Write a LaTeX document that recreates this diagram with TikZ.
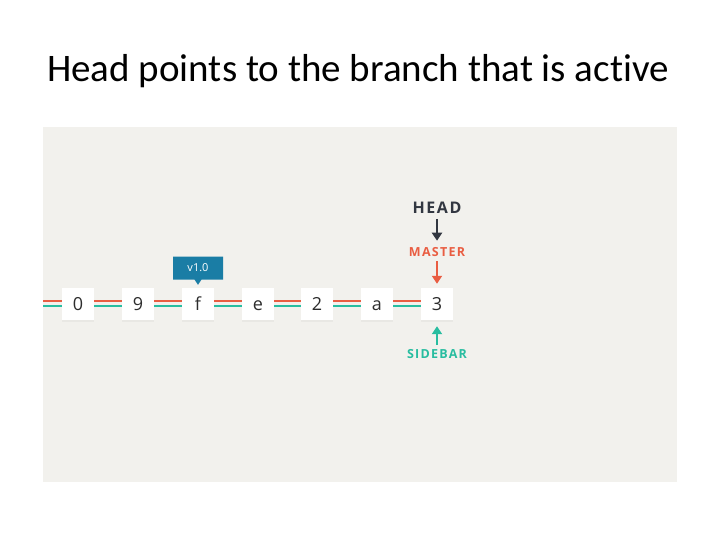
\documentclass[tikz,border=0pt]{standalone}
\usepackage{fontspec}
\setmainfont{Carlito}[Ligatures=NoCommon]
\newfontfamily\capsfont[LetterSpace=10]{Open Sans}
\newfontfamily\commitfont{Open Sans}
\usetikzlibrary{arrows.meta,positioning,shapes.callouts,shadows}
\definecolor{panelbg}{RGB}{242,241,237}
\definecolor{mastercol}{RGB}{233,93,66}
\definecolor{sidecol}{RGB}{40,189,160}
\definecolor{headcol}{RGB}{50,55,65}
\definecolor{tagcol}{RGB}{26,125,165}
\definecolor{digitcol}{RGB}{45,45,45}
\tikzset{
  commit/.style={draw=none, fill=white, minimum width=32pt, minimum height=32pt,
    inner sep=0pt, text height=12.5pt, text depth=0pt,
    font=\commitfont\fontsize{18}{18}\selectfont, text=digitcol,
    drop shadow={opacity=0.08, shadow xshift=0pt, shadow yshift=-1.5pt}},
  refname/.style={font=\capsfont\bfseries\fontsize{12.5}{12.5}\selectfont, inner sep=1pt},
  tagbox/.style={rectangle callout, fill=tagcol, text=white, minimum width=50pt,
    minimum height=23pt, inner sep=0pt, font=\commitfont\fontsize{11}{11}\selectfont},
  branchln/.style={line width=2pt},
  refarrow/.style={-{Triangle[length=8pt,width=10pt]}, line width=2.5pt},
}

\begin{document}
\begin{tikzpicture}[x=1pt, y=-1pt]
    \useasboundingbox (0,0) rectangle (720,540);
    \fill[white] (0,0) rectangle (720,540);
    \node[font=\fontsize{39}{42}\selectfont] (title) at (358,71) {Head points to the branch that is active};
    % panel
    \fill[panelbg] (43,127) rectangle (677,482);
    \coordinate (start) at (43,304);
    % commits
    \foreach \i/\x/\lab in {0/78/0, 1/138/9, 2/198/f, 3/258/e, 4/317/2, 5/377/a, 6/437/3} {
      \node[commit] (c\i) at (\x,304) {\lab};
    }
    \draw[branchln, mastercol] ([yshift=3.5pt]start) -- ([yshift=3.5pt]c0.west);
    \draw[branchln, sidecol] ([yshift=-2pt]start) -- ([yshift=-2pt]c0.west);
    \foreach \prev/\cur in {c0/c1, c1/c2, c2/c3, c3/c4, c4/c5, c5/c6} {
      \draw[branchln, mastercol] ([yshift=3.5pt]\prev.east) -- ([yshift=3.5pt]\cur.west);
      \draw[branchln, sidecol] ([yshift=-2pt]\prev.east) -- ([yshift=-2pt]\cur.west);
    }
    % tag
    \node[tagbox, callout absolute pointer={([yshift=3pt]c2.north)}] (tag) at (198,268) {v1.0};
    % refs
    \node[refname, text=headcol, font=\capsfont\bfseries\fontsize{16}{16}\selectfont] (head) at (437,208) {HEAD};
    \node[refname, text=mastercol] (master) at (437,252.5) {MASTER};
    \node[refname, text=sidecol] (sidebar) at (437,354) {SIDEBAR};
    \draw[refarrow, headcol, shorten <=4pt, shorten >=6pt] (head.south) -- (master.north);
    \draw[refarrow, mastercol, shorten <=3pt, shorten >=4pt] (master.south) -- (c6.north);
    \draw[refarrow, sidecol, shorten <=3pt, shorten >=6pt] (sidebar.north) -- (c6.south);
\end{tikzpicture}
\end{document}
